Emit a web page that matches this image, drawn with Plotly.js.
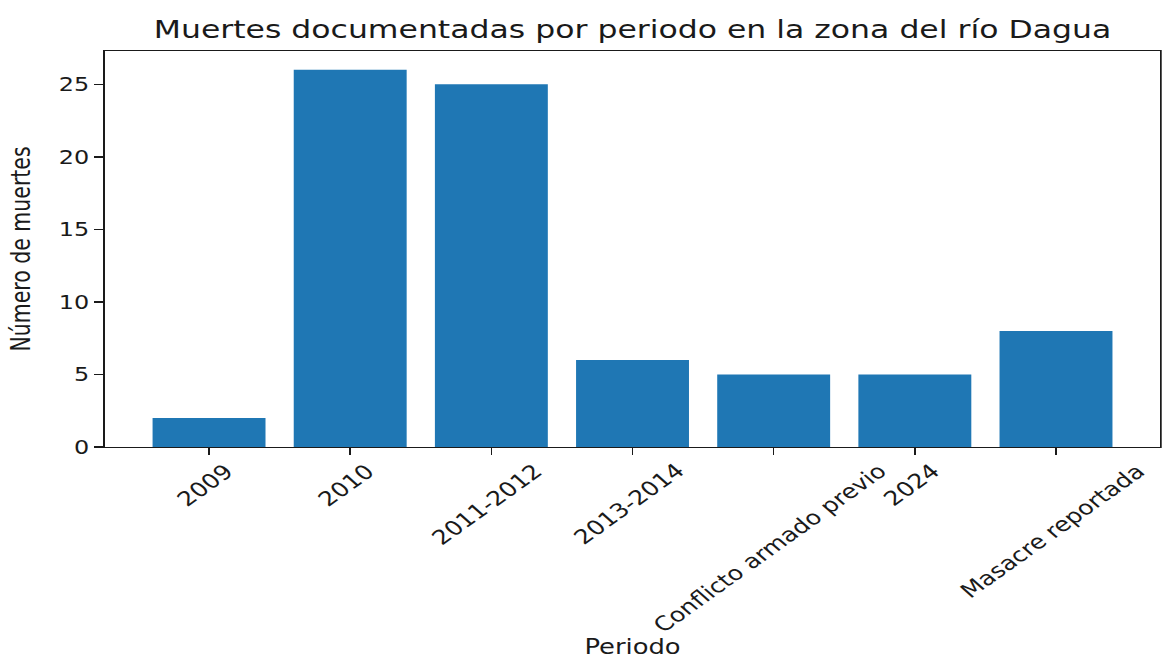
<!DOCTYPE html>
<html>
<head>
<meta charset="utf-8">
<script src="https://cdn.plot.ly/plotly-3.0.1.min.js"></script>
<style>
  html, body { margin: 0; padding: 0; background: #fff; overflow: hidden; }
  #chart { width: 922px; height: 659px; transform: scaleX(1.26); transform-origin: 0 0; }
</style>
</head>
<body>
<div id="chart"></div>
<script>
const categories = ["2009", "2010", "2011-2012", "2013-2014", "Conflicto armado previo", "2024", "Masacre reportada"];
const deaths = [2, 26, 25, 6, 5, 5, 8];
const yTicks = [0, 5, 10, 15, 20, 25];

const FONT = "DejaVu Sans";
const INK = "#1a1a1a";

const tickLabelAnnotations = categories.map((c, i) => ({
  x: i, xref: "x",
  y: -0.023, yref: "paper",
  xshift: -3,
  text: c,
  showarrow: false,
  textangle: -42,
  xanchor: "center", yanchor: "top",
  font: { family: FONT, size: 20, color: INK }
}));

const data = [{
  type: "bar",
  x: categories,
  y: deaths,
  width: 0.8,
  marker: { color: "#1f77b4", line: { width: 0 } },
  hoverinfo: "x+y"
}];

const layout = {
  width: 922, height: 659,
  margin: { l: 83, r: 1, t: 51, b: 212 },
  paper_bgcolor: "#fff", plot_bgcolor: "#fff",
  showlegend: false,
  font: { family: FONT, size: 19, color: INK },
  title: {
    text: "Muertes documentadas por periodo en la zona del río Dagua",
    font: { family: FONT, size: 25, color: INK },
    x: 0.5, xref: "paper", xanchor: "center",
    y: 1 - 29 / 659, yref: "container", yanchor: "middle"
  },
  xaxis: {
    type: "category",
    range: [-0.74, 6.74],
    showticklabels: false,
    ticks: "outside", ticklen: 7, tickwidth: 1.3, tickcolor: INK,
    showline: true, linecolor: INK, linewidth: 1.3, mirror: true,
    showgrid: false, zeroline: false,
    title: { text: "Periodo", font: { family: FONT, size: 20.5, color: INK }, standoff: 185 }
  },
  yaxis: {
    range: [0, 27.3],
    tickvals: yTicks,
    ticktext: yTicks.map(String),
    ticks: "outside", ticklen: 7, tickwidth: 1.3, tickcolor: INK,
    tickfont: { family: FONT, size: 19, color: INK },
    showline: true, linecolor: INK, linewidth: 1.3, mirror: true,
    showgrid: false, zeroline: false,
    title: { text: "Número de muertes", font: { family: FONT, size: 20.5, color: INK }, standoff: 16 }
  },
  annotations: tickLabelAnnotations
};

Plotly.newPlot("chart", data, layout, { displayModeBar: false, staticPlot: true });
</script>
</body>
</html>
